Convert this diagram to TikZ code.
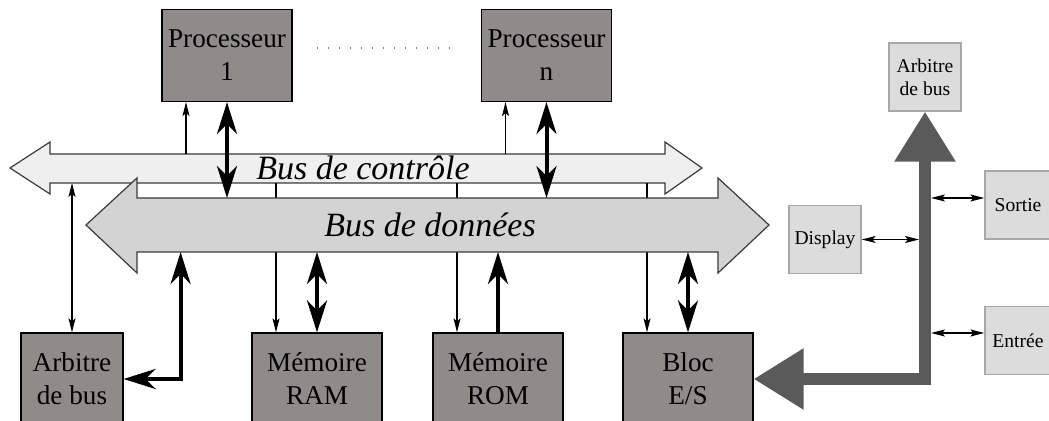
\documentclass[tikz,border=0pt]{standalone}
\usepackage{fontspec}
\setmainfont{Liberation Serif}
\usetikzlibrary{arrows.meta,positioning}
\definecolor{cBlock}{HTML}{8F8B8A}
\definecolor{cCtl}{HTML}{EFEFEF}
\definecolor{cDat}{HTML}{D3D3D3}
\definecolor{cEdge}{HTML}{3A3A3A}
\definecolor{cSmall}{HTML}{DCDCDC}
\definecolor{cSmallEdge}{HTML}{A8A8A8}
\definecolor{cIO}{HTML}{5A5A5A}
\tikzset{
  blk/.style    = {rectangle, draw=black, fill=cBlock, line width=0.6pt, align=center,
                   minimum width=65pt, minimum height=46pt, inner sep=2pt,
                   font=\fontsize{13.6}{16.5}\selectfont},
  sml/.style    = {rectangle, draw=cSmallEdge, fill=cSmall, line width=0.6pt, align=center,
                   minimum width=36pt, minimum height=34pt, inner sep=1pt,
                   font=\fontsize{9.8}{11.5}\selectfont},
  cbus/.style   = {draw=cEdge, fill=cCtl, line width=0.6pt},
  dbus/.style   = {draw=cEdge, fill=cDat, line width=0.6pt},
  buslbl/.style = {inner sep=0pt, font=\fontsize{17}{20}\selectfont\itshape},
  thn/.style    = {-{Stealth[length=7pt, width=3.5pt, inset=1.5pt]}, line width=0.6pt},
  thn2/.style   = {{Stealth[length=7pt, width=3.5pt, inset=1.5pt]}-{Stealth[length=7pt, width=3.5pt, inset=1.5pt]},
                   line width=0.6pt},
  thk/.style    = {-{Stealth[length=16pt, width=10pt, inset=5pt]}, line width=2pt},
  thk2/.style   = {{Stealth[length=16pt, width=10pt, inset=5pt]}-{Stealth[length=16pt, width=10pt, inset=5pt]},
                   line width=2pt, line join=miter},
  big/.style    = {{Triangle[length=25pt, width=29pt]}-{Triangle[length=25pt, width=29pt]},
                   draw=cIO, line width=6pt, line join=miter},
  dotline/.style= {draw=gray, line width=0.6pt, dash pattern=on 0.6pt off 4.9pt},
}

\begin{document}
\begin{tikzpicture}[x=0.5pt, y=-0.5pt]
  \useasboundingbox (0,0) rectangle (1049,421);
  \clip (0,0) rectangle (1049,421);

  % edges of the two buses
  \coordinate (ctop) at (0,154);
  \coordinate (cbot) at (0,183);
  \coordinate (dtop) at (0,198);
  \coordinate (dbot) at (0,252);

  % bus de controle
  \filldraw[cbus] (10,168) -- (50,142) -- (50,154) -- (665,154) -- (665,142) -- (702,168)
    -- (665,194) -- (665,183) -- (50,183) -- (50,194) -- cycle;
  \node[buslbl] (lctl) at (363,168) {Bus de contrôle};

  \node[blk] (p1) at (227,55.5) {Processeur\\1};
  \node[blk] (pn) at (546.5,55.5) {Processeur\\n};
  \node[blk, minimum width=51pt] (arb) at (72,379) {Arbitre\\de bus};
  \node[blk] (ram) at (317,379) {Mémoire\\RAM};
  \node[blk] (rom) at (498,379) {Mémoire\\ROM};
  \node[blk] (es) at (688,379) {Bloc\\E/S};

  \draw[dotline] ([xshift=12pt, yshift=3.75pt]p1.east) -- ([xshift=-16pt, yshift=3.75pt]pn.west);

  % lignes de controle
  \foreach \p in {p1,pn}{
    \coordinate (t) at ([xshift=-20.5pt]\p.south);
    \draw[thn] (t |- ctop) -- (t);
  }
  \foreach \m in {ram,rom,es}{
    \coordinate (t) at ([xshift=-20.5pt]\m.north);
    \draw[thn] (t |- cbot) -- (t);
  }
  \draw[thn2] (arb.north |- cbot) -- (arb.north);

  % bus de donnees
  \filldraw[dbus] (86,225) -- (137,178) -- (137,198) -- (718,198) -- (718,178) -- (769,225)
    -- (718,273) -- (718,252) -- (137,252) -- (137,273) -- cycle;
  \node[buslbl] (ldat) at (430,225) {Bus de données};

  % liaisons de donnees
  \foreach \p in {p1,pn}
    \draw[thk2] (\p.south) -- (\p.south |- dtop);
  \foreach \m in {ram,es}
    \draw[thk2] (\m.north |- dbot) -- (\m.north);
  \draw[thk] (rom.north) -- (rom.north |- dbot);
  \coordinate (ka) at ([xshift=28.5pt]arb.east);
  \draw[thk2] (arb.east) -| (ka |- dbot);

  % bus d'entree/sortie
  \node[sml] (arb2) at (925,77) {Arbitre\\de bus};
  \node[sml] (disp) at (825,239.5) {Display};
  \node[sml, minimum width=33pt] (sor) at (1018,205) {Sortie};
  \node[sml, minimum width=33pt] (ent) at (1018,340.5) {Entrée};
  \draw[big] (es.east) -| (arb2.south);

  \coordinate (shl) at ([xshift=-3pt]arb2.south);
  \coordinate (shr) at ([xshift=3pt]arb2.south);
  \coordinate (sa) at ([yshift=3.5pt]sor.west);
  \coordinate (ea) at ([yshift=3.75pt]ent.west);
  \draw[thn2] (disp.east) -- (shl |- disp.east);
  \draw[thn2] (shr |- sa) -- (sa);
  \draw[thn2] (shr |- ea) -- (ea);
\end{tikzpicture}
\end{document}
